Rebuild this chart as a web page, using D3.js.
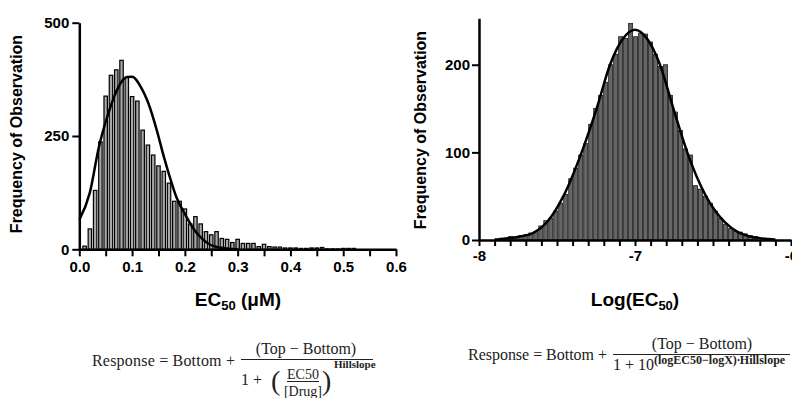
<!DOCTYPE html>
<html>
<head>
<meta charset="utf-8">
<script src="https://cdnjs.cloudflare.com/ajax/libs/d3/7.8.5/d3.min.js"></script>
<style>
  body { margin: 0; background: #fff; }
  svg text { font-family: "Liberation Sans", Arial, sans-serif; fill: #000; }
  .axis text { font-weight: bold; font-size: 15px; }
  .axis path, .axis line { stroke: #000; }
  .axis path { stroke-width: 2.5px; }
  .axis line { stroke-width: 2px; }
  .title { font-weight: bold; }
  .eq text { font-family: "Liberation Serif", "Times New Roman", serif; fill: #222; }
</style>
</head>
<body>
<div id="chart-area"></div>
<script>
// ---- left histogram: EC50 (uM), bins of 0.01 ----
const ec50Bins = [0.01, 0.02, 0.03, 0.04, 0.05, 0.06, 0.07, 0.08, 0.09, 0.10,
  0.11, 0.12, 0.13, 0.14, 0.15, 0.16, 0.17, 0.18, 0.19, 0.20,
  0.21, 0.22, 0.23, 0.24, 0.25, 0.26, 0.27, 0.28, 0.29, 0.30,
  0.31, 0.32, 0.33, 0.34, 0.35, 0.36, 0.37, 0.38, 0.39, 0.40,
  0.41, 0.42, 0.43, 0.44, 0.45, 0.46, 0.47, 0.48, 0.49, 0.50,
  0.51, 0.52]
const ec50Counts = [7, 45, 130, 237, 338, 384, 396, 417, 379, 337,
  327, 263, 230, 208, 184, 172, 146, 106, 106, 89,
  56, 72, 56, 39, 32, 39, 24, 22, 15, 22,
  13, 13, 13, 6, 11, 6, 5, 5, 3, 3,
  3, 2, 2, 3, 3, 4, 1, 1, 1, 2,
  2, 2]
// fitted curve
const ec50FitX = [0, 0.02, 0.037, 0.055, 0.074, 0.09, 0.1, 0.118, 0.13, 0.147, 0.16, 0.17, 0.184, 0.2, 0.216, 0.232, 0.248, 0.265, 0.3]
const ec50FitY = [65, 125, 225, 300, 358, 380, 381, 355, 325, 262, 205, 165, 115, 78, 46, 24, 10, 4, 0]
const ec50Ticks = [0, 0.05, 0.1, 0.15, 0.2, 0.25, 0.3, 0.35, 0.4, 0.45, 0.5, 0.55, 0.6]
const ec50Labeled = [0, 0.1, 0.2, 0.3, 0.4, 0.5, 0.6]
const leftCountTicks = [0, 250, 500]

// ---- right histogram: Log(EC50) ----
const logBins = [-7.860, -7.828, -7.796, -7.764, -7.732, -7.700, -7.668, -7.636, -7.604, -7.572,
  -7.540, -7.508, -7.476, -7.444, -7.412, -7.380, -7.348, -7.316, -7.284, -7.252,
  -7.220, -7.188, -7.156, -7.124, -7.092, -7.060, -7.028, -6.996, -6.964, -6.932,
  -6.900, -6.868, -6.836, -6.804, -6.772, -6.740, -6.708, -6.676, -6.644, -6.612,
  -6.580, -6.548, -6.516, -6.484, -6.452, -6.420, -6.388, -6.356, -6.324, -6.292,
  -6.260, -6.228]
const logCounts = [2, 1, 4, 3, 5, 6, 8, 10, 16, 22,
  25, 33, 42, 52, 70, 82, 97, 110, 132, 150,
  165, 180, 200, 212, 232, 230, 247, 232, 236, 235,
  226, 212, 198, 200, 165, 146, 125, 104, 97, 62,
  58, 50, 42, 33, 25, 18, 13, 10, 9, 7,
  5, 4]
const logFitX = [-7.9, -7.865, -7.737, -7.652, -7.566, -7.459, -7.342, -7.246, -7.16, -7.08, -7.0, -6.92, -6.84, -6.754, -6.665, -6.545, -6.423, -6.34, -6.284, -6.2, -6.1]
const logFitY = [0.5, 1, 4, 8, 20, 50, 100, 150, 200, 229, 240, 229, 200, 150, 100, 50, 20, 9, 5, 2, 0.5]
const logTicks = [-8, -7.9, -7.8, -7.7, -7.6, -7.5, -7.4, -7.3, -7.2, -7.1, -7,
  -6.9, -6.8, -6.7, -6.6, -6.5, -6.4, -6.3, -6.2, -6.1, -6]
const logLabeled = [-8, -7, -6]
const rightCountTicks = [0, 100, 200]

const svg = d3.select("#chart-area")
  .append("svg")
    .attr("width", 792)
    .attr("height", 398)

svg.append("rect").attr("width", 792).attr("height", 398).attr("fill", "#fff")

const near = (arr, d) => arr.some(v => Math.abs(v - d) < 1e-9)

// ================= left chart =================
const xL = d3.scaleLinear().domain([0, 0.6]).range([79.3, 396])
const yL = d3.scaleLinear().domain([0, 500]).range([249.3, 22.7])

const left = svg.append("g")

const bwL = xL(0.0065) - xL(0)
left.selectAll("rect.bar")
  .data(ec50Bins.map((b, i) => ({ b, c: ec50Counts[i] })))
  .enter().append("rect")
    .attr("class", "bar")
    .attr("x", d => xL(d.b) - bwL / 2)
    .attr("y", d => yL(d.c))
    .attr("width", bwL)
    .attr("height", d => yL(0) - yL(d.c))
    .attr("fill", "#a8a8a8")
    .attr("stroke", "#000")
    .attr("stroke-width", 1.2)

left.append("path")
  .datum(ec50FitX.map((x, i) => [x, ec50FitY[i]]))
  .attr("fill", "none")
  .attr("stroke", "#000")
  .attr("stroke-width", 2.5)
  .attr("d", d3.line().x(d => xL(d[0])).y(d => yL(d[1])).curve(d3.curveMonotoneX))

left.append("g")
  .attr("class", "axis")
  .attr("transform", `translate(0, ${yL(0)})`)
  .call(d3.axisBottom(xL)
    .tickValues(ec50Ticks)
    .tickSize(7)
    .tickSizeOuter(0)
    .tickPadding(5)
    .tickFormat(d => near(ec50Labeled, d) ? d.toFixed(1) : ""))

left.append("g")
  .attr("class", "axis")
  .attr("transform", `translate(${xL(0)}, 0)`)
  .call(d3.axisLeft(yL)
    .tickValues(leftCountTicks)
    .tickSize(7)
    .tickSizeOuter(0)
    .tickPadding(3))

// axis titles
left.append("text")
  .attr("class", "title")
  .attr("transform", "translate(22, 134) rotate(-90)")
  .attr("text-anchor", "middle")
  .attr("font-size", "16px")
  .text("Frequency of Observation")

const tL = left.append("text")
  .attr("class", "title")
  .attr("x", 238)
  .attr("y", 306)
  .attr("text-anchor", "middle")
  .attr("font-size", "19px")
tL.append("tspan").text("EC")
tL.append("tspan").attr("font-size", "13px").attr("dy", 4).text("50")
tL.append("tspan").attr("dy", -4).text(" (\u03bcM)")

// ================= right chart =================
const xR = d3.scaleLinear().domain([-8, -6]).range([479, 791])
const yR = d3.scaleLinear().domain([0, 253]).range([240, 18.3])

const right = svg.append("g")

const bwR = (xR(-7.968) - xR(-8)) * 0.8
right.selectAll("rect.bar")
  .data(logBins.map((b, i) => ({ b, c: logCounts[i] })))
  .enter().append("rect")
    .attr("class", "bar")
    .attr("x", d => xR(d.b) - bwR / 2)
    .attr("y", d => yR(d.c))
    .attr("width", bwR)
    .attr("height", d => yR(0) - yR(d.c))
    .attr("fill", "#666")
    .attr("stroke", "#1a1a1a")
    .attr("stroke-width", 0.8)

right.append("path")
  .datum(logFitX.map((x, i) => [x, logFitY[i]]))
  .attr("fill", "none")
  .attr("stroke", "#000")
  .attr("stroke-width", 2.5)
  .attr("d", d3.line().x(d => xR(d[0])).y(d => yR(d[1])).curve(d3.curveMonotoneX))

right.append("g")
  .attr("class", "axis")
  .attr("transform", `translate(0, ${yR(0)})`)
  .call(d3.axisBottom(xR)
    .tickValues(logTicks)
    .tickSize(6)
    .tickSizeOuter(0)
    .tickPadding(4)
    .tickFormat(d => near(logLabeled, d) ? String(Math.round(d)).replace("\u2212", "-") : ""))

right.append("g")
  .attr("class", "axis")
  .attr("transform", `translate(${xR(-8)}, 0)`)
  .call(d3.axisLeft(yR)
    .tickValues(rightCountTicks)
    .tickSize(7)
    .tickSizeOuter(0)
    .tickPadding(2))

right.append("text")
  .attr("class", "title")
  .attr("transform", "translate(426, 130) rotate(-90)")
  .attr("text-anchor", "middle")
  .attr("font-size", "16px")
  .text("Frequency of Observation")

const tR = right.append("text")
  .attr("class", "title")
  .attr("x", 635)
  .attr("y", 306)
  .attr("text-anchor", "middle")
  .attr("font-size", "19px")
tR.append("tspan").text("Log(EC")
tR.append("tspan").attr("font-size", "13px").attr("dy", 4).text("50")
tR.append("tspan").attr("dy", -4).text(")")

// ================= equations =================
const eqL = svg.append("g").attr("class", "eq")
eqL.append("text").attr("x", 92).attr("y", 366).attr("font-size", "16px")
  .attr("textLength", 143).attr("lengthAdjust", "spacing")
  .text("Response = Bottom +")
eqL.append("text").attr("x", 306).attr("y", 354).attr("font-size", "16px")
  .attr("text-anchor", "middle").text("(Top \u2212 Bottom)")
eqL.append("line").attr("x1", 241).attr("x2", 373).attr("y1", 359.5).attr("y2", 359.5)
  .attr("stroke", "#222").attr("stroke-width", 1.2)
eqL.append("text").attr("x", 241).attr("y", 385).attr("font-size", "16px").text("1 +")
eqL.append("text").attr("x", 271).attr("y", 390).attr("font-size", "28px").text("(")
eqL.append("text").attr("x", 322).attr("y", 390).attr("font-size", "28px").text(")")
eqL.append("text").attr("x", 303).attr("y", 379).attr("font-size", "14px")
  .attr("text-anchor", "middle").text("EC50")
eqL.append("line").attr("x1", 287).attr("x2", 319).attr("y1", 381.5).attr("y2", 381.5)
  .attr("stroke", "#222").attr("stroke-width", 1)
eqL.append("text").attr("x", 303).attr("y", 396).attr("font-size", "14px")
  .attr("text-anchor", "middle").text("[Drug]")
eqL.append("text").attr("x", 334).attr("y", 368).attr("font-size", "11px")
  .attr("font-weight", "bold").text("Hillslope")

const eqR = svg.append("g").attr("class", "eq")
eqR.append("text").attr("x", 468).attr("y", 360).attr("font-size", "16px")
  .attr("textLength", 139).attr("lengthAdjust", "spacing")
  .text("Response = Bottom +")
eqR.append("text").attr("x", 702).attr("y", 349).attr("font-size", "16px")
  .attr("text-anchor", "middle").text("(Top \u2212 Bottom)")
eqR.append("line").attr("x1", 613).attr("x2", 790).attr("y1", 354.5).attr("y2", 354.5)
  .attr("stroke", "#222").attr("stroke-width", 1.2)
eqR.append("text").attr("x", 613).attr("y", 370).attr("font-size", "16px").text("1 + 10")
eqR.append("text").attr("x", 654).attr("y", 364).attr("font-size", "12px")
  .attr("font-weight", "bold").text("(logEC50\u2212logX)\u2219Hillslope")
</script>
</body>
</html>
